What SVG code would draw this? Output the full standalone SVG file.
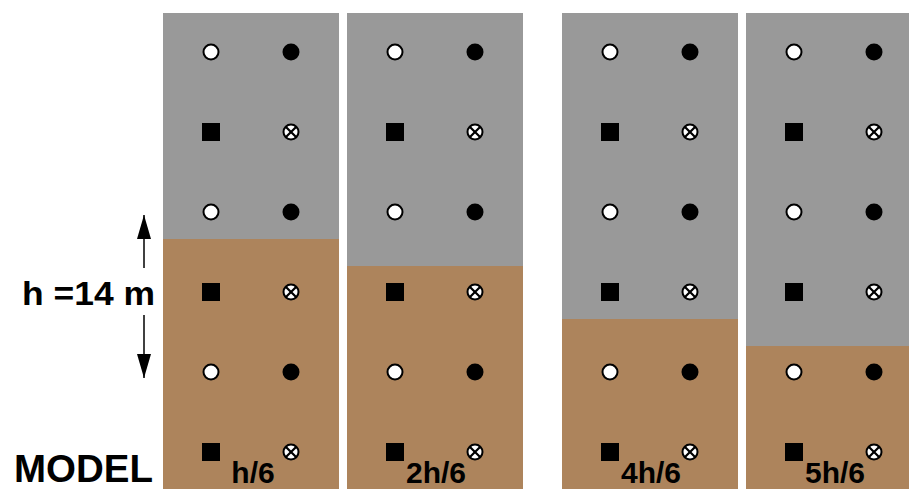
<svg xmlns="http://www.w3.org/2000/svg" width="909" height="489" viewBox="0 0 909 489">
<defs>
<style>
.gray{fill:#999999}
.soil{fill:#ad845c}
.oc{fill:#ffffff;stroke:#000000;stroke-width:2}
.bc{fill:#000000}
.xc{fill:#ffffff;stroke:#000000;stroke-width:2}
.xl{stroke:#000000;stroke-width:2.2}
.lbl{font-family:"Liberation Sans",Arial,sans-serif;font-weight:bold;fill:#000000}
.arr{stroke:#000000;stroke-width:1.5;fill:none}
</style>
<g id="sym">
<circle cx="0" cy="0" r="7.5" class="oc"/>
<rect x="-9" y="71" width="18" height="18" class="bc"/>
<circle cx="80" cy="0" r="8.5" class="bc"/>
<g transform="translate(80,80)">
<circle cx="0" cy="0" r="7.5" class="xc"/>
<line x1="-5.3" y1="-5.3" x2="5.3" y2="5.3" class="xl"/>
<line x1="-5.3" y1="5.3" x2="5.3" y2="-5.3" class="xl"/>
</g>
</g>
<g id="col">
<use href="#sym"/>
<use href="#sym" y="160"/>
<use href="#sym" y="320"/>
</g>
<marker id="ah" markerWidth="24" markerHeight="14" refX="24" refY="7" orient="auto" markerUnits="userSpaceOnUse" viewBox="0 0 24 14">
<path d="M0,0 L24,7 L0,14 Z" fill="#000000"/>
</marker>
</defs>
<g id="panel1">
<rect x="163" y="13" width="176" height="476" class="gray"/>
<rect x="163" y="239" width="176" height="250" class="soil"/>
<use href="#col" x="211" y="52"/>
<text x="253" y="483" font-size="30" text-anchor="middle" class="lbl">h/6</text>
</g>
<g id="panel2">
<rect x="347" y="13" width="176" height="476" class="gray"/>
<rect x="347" y="266" width="176" height="223" class="soil"/>
<use href="#col" x="395" y="52"/>
<text x="436" y="483" font-size="30" text-anchor="middle" class="lbl">2h/6</text>
</g>
<g id="panel3">
<rect x="562" y="13" width="176" height="476" class="gray"/>
<rect x="562" y="319" width="176" height="170" class="soil"/>
<use href="#col" x="610" y="52"/>
<text x="651" y="483" font-size="30" text-anchor="middle" class="lbl">4h/6</text>
</g>
<g id="panel4">
<rect x="746" y="13" width="176" height="476" class="gray"/>
<rect x="746" y="346" width="176" height="143" class="soil"/>
<use href="#col" x="794" y="52"/>
<text x="835" y="483" font-size="30" text-anchor="middle" class="lbl">5h/6</text>
</g>
<g id="connectors">
<line x1="144" y1="268" x2="144" y2="215" class="arr" marker-end="url(#ah)"/>
<line x1="144" y1="315" x2="144" y2="378" class="arr" marker-end="url(#ah)"/>
</g>
<g id="labels">
<text x="22" y="305" font-size="33" class="lbl" textLength="133" lengthAdjust="spacingAndGlyphs">h =14 m</text>
<text x="14" y="482" font-size="38" class="lbl" textLength="139" lengthAdjust="spacingAndGlyphs">MODEL</text>
</g>
</svg>
